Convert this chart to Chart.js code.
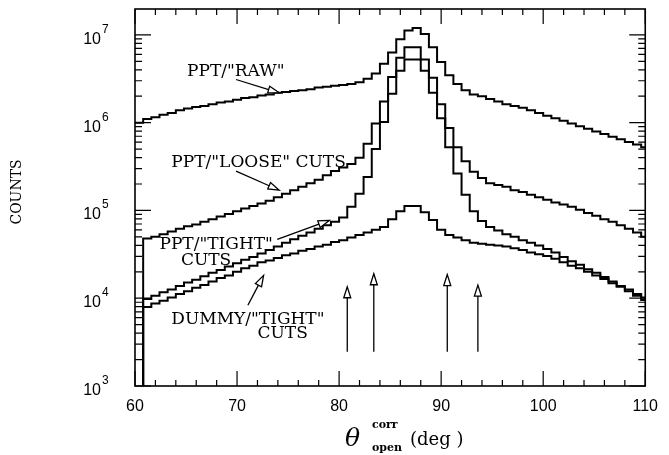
<!DOCTYPE html>
<html>
<head>
<meta charset="utf-8">
<script src="https://cdn.jsdelivr.net/npm/chart.js@4.4.1/dist/chart.umd.min.js"></script>
<style>
  html, body { margin: 0; padding: 0; background: #fff; }
</style>
</head>
<body>
<canvas id="openAngle" width="669" height="455"></canvas>
<script>
// opening-angle histograms, 0.8 deg bins starting at 60 deg
const BIN_START = 60.0;
const BIN_WIDTH = 0.8;

const rawCounts = [
  1.00e6, 1.10e6, 1.15e6, 1.23e6, 1.29e6, 1.38e6, 1.45e6, 1.51e6, 1.55e6, 1.62e6,
  1.70e6, 1.74e6, 1.82e6, 1.91e6, 1.95e6, 2.04e6, 2.09e6, 2.19e6, 2.24e6, 2.29e6,
  2.34e6, 2.40e6, 2.51e6, 2.57e6, 2.63e6, 2.69e6, 2.75e6, 2.88e6, 3.16e6, 3.63e6,
  4.68e6, 6.31e6, 8.91e6, 1.12e7, 1.20e7, 1.02e7, 7.24e6, 4.90e6, 3.47e6, 2.75e6,
  2.34e6, 2.09e6, 2.00e6, 1.86e6, 1.74e6, 1.62e6, 1.55e6, 1.48e6, 1.38e6, 1.29e6,
  1.20e6, 1.12e6, 1.05e6, 9.77e5, 9.12e5, 8.51e5, 7.94e5, 7.41e5, 6.92e5, 6.46e5,
  6.03e5, 5.62e5, 5.25e5
];
const looseCounts = [
  0,      4.79e4, 5.01e4, 5.37e4, 5.75e4, 6.17e4, 6.61e4, 6.92e4, 7.41e4, 7.94e4,
  8.51e4, 9.12e4, 9.77e4, 1.05e5, 1.12e5, 1.20e5, 1.29e5, 1.41e5, 1.55e5, 1.70e5,
  1.86e5, 2.04e5, 2.24e5, 2.51e5, 2.82e5, 3.09e5, 3.39e5, 3.98e5, 5.75e5, 9.77e5,
  1.74e6, 3.31e6, 5.50e6, 7.24e6, 7.24e6, 5.25e6, 3.24e6, 1.62e6, 8.71e5, 5.25e5,
  3.63e5, 2.75e5, 2.34e5, 2.04e5, 1.95e5, 1.86e5, 1.70e5, 1.62e5, 1.51e5, 1.41e5,
  1.32e5, 1.23e5, 1.17e5, 1.10e5, 1.02e5, 9.33e4, 8.71e4, 7.94e4, 7.41e4, 6.76e4,
  6.17e4, 5.62e4, 5.01e4
];
const tightCounts = [
  0,      9.77e3, 1.07e4, 1.17e4, 1.26e4, 1.38e4, 1.51e4, 1.62e4, 1.78e4, 1.95e4,
  2.09e4, 2.29e4, 2.51e4, 2.75e4, 2.95e4, 3.24e4, 3.55e4, 3.89e4, 4.27e4, 4.68e4,
  5.13e4, 5.62e4, 6.17e4, 6.76e4, 7.41e4, 8.32e4, 1.10e5, 1.55e5, 2.40e5, 5.01e5,
  1.02e6, 2.14e6, 3.89e6, 5.25e6, 5.25e6, 3.89e6, 2.19e6, 1.12e6, 5.25e5, 2.63e5,
  1.51e5, 9.77e4, 7.59e4, 6.46e4, 5.89e4, 5.37e4, 5.01e4, 4.57e4, 4.27e4, 3.98e4,
  3.63e4, 3.31e4, 2.95e4, 2.63e4, 2.40e4, 2.14e4, 1.95e4, 1.74e4, 1.55e4, 1.38e4,
  1.26e4, 1.12e4, 1.02e4
];
const dummyCounts = [
  0,      7.94e3, 8.71e3, 9.33e3, 1.02e4, 1.12e4, 1.20e4, 1.32e4, 1.41e4, 1.55e4,
  1.70e4, 1.82e4, 2.00e4, 2.19e4, 2.34e4, 2.57e4, 2.69e4, 2.88e4, 3.09e4, 3.24e4,
  3.47e4, 3.63e4, 3.89e4, 4.07e4, 4.37e4, 4.57e4, 4.90e4, 5.25e4, 5.62e4, 6.03e4,
  6.46e4, 7.94e4, 9.77e4, 1.12e5, 1.12e5, 9.55e4, 7.76e4, 6.03e4, 5.25e4, 4.90e4,
  4.57e4, 4.27e4, 4.17e4, 4.07e4, 3.98e4, 3.89e4, 3.72e4, 3.55e4, 3.31e4, 3.16e4,
  3.02e4, 2.82e4, 2.57e4, 2.34e4, 2.19e4, 2.00e4, 1.82e4, 1.66e4, 1.48e4, 1.35e4,
  1.20e4, 1.07e4, 9.55e3
];

// cut positions marked with vertical arrows (deg)
const cutAngles = [80.8, 83.4, 90.6, 93.6];
const cutArrowTops = [1.35e4, 1.90e4, 1.86e4, 1.41e4];
const cutArrowBottom = 2.45e3;

const xTickLabels = [60, 70, 80, 90, 100, 110];
const yDecades = [3, 4, 5, 6, 7];

// text labels: lines at (deg, counts), arrow from -> to
const curveLabels = [
  { lines: [['PPT/"RAW"', 65.1, 3.8e6]], from: [69.9, 3.1e6], to: [74.13, 2.19e6] },
  { lines: [['PPT/"LOOSE" CUTS', 63.56, 3.5e5]], from: [69.9, 2.8e5], to: [74.13, 1.70e5] },
  { lines: [['PPT/"TIGHT"', 62.4, 4.07e4], ['CUTS', 64.5, 2.7e4]], from: [73.94, 4.68e4], to: [79.04, 7.7e4] },
  { lines: [['DUMMY/"TIGHT"', 63.56, 5.75e3], ['CUTS', 72.0, 3.98e3]], from: [71.06, 8.3e3], to: [72.6, 1.82e4] }
];

// histogram -> step points (left edges plus the closing right edge)
function toSteps(counts) {
  const pts = counts.map((c, i) => ({ x: BIN_START + i * BIN_WIDTH, y: Math.max(c, 1) }));
  pts.push({ x: BIN_START + counts.length * BIN_WIDTH, y: Math.max(counts[counts.length - 1], 1) });
  return pts;
}

function histDataset(label, counts) {
  return {
    label: label,
    data: toSteps(counts),
    stepped: true,
    borderColor: '#000',
    borderWidth: 2,
    pointRadius: 0,
    fill: false,
    clip: 0
  };
}

function arrow(ctx, x0, y0, x1, y1, head, half) {
  const a = Math.atan2(y1 - y0, x1 - x0);
  const bx = x1 - head * Math.cos(a), by = y1 - head * Math.sin(a);
  ctx.beginPath();
  ctx.moveTo(x0, y0);
  ctx.lineTo(bx, by);
  ctx.stroke();
  ctx.beginPath();
  ctx.moveTo(x1, y1);
  ctx.lineTo(bx + half * Math.sin(a), by - half * Math.cos(a));
  ctx.lineTo(bx - half * Math.sin(a), by + half * Math.cos(a));
  ctx.closePath();
  ctx.fillStyle = '#fff';
  ctx.fill();
  ctx.stroke();
}

const framePlugin = {
  id: 'frame',
  afterDraw(chart) {
    const ctx = chart.ctx;
    const area = chart.chartArea;
    const xs = chart.scales.x, ys = chart.scales.y;
    ctx.save();
    ctx.strokeStyle = '#000';
    ctx.lineWidth = 1.6;
    ctx.strokeRect(area.left, area.top, area.right - area.left, area.bottom - area.top);

    // x ticks every 2 deg, long ones at the labelled values
    ctx.lineWidth = 1.2;
    for (let v = xs.min; v <= xs.max + 1e-6; v += 2) {
      const px = xs.getPixelForValue(v);
      const len = xTickLabels.includes(Math.round(v)) ? 15 : 6;
      ctx.beginPath();
      ctx.moveTo(px, area.bottom); ctx.lineTo(px, area.bottom - len);
      ctx.moveTo(px, area.top); ctx.lineTo(px, area.top + len);
      ctx.stroke();
    }
    // y ticks on both sides
    yDecades.forEach(d => {
      for (let m = 1; m <= 9; m++) {
        const v = m * Math.pow(10, d);
        if (v > ys.max) break;
        const py = ys.getPixelForValue(v);
        const len = m === 1 ? 16 : 7;
        ctx.beginPath();
        ctx.moveTo(area.left, py); ctx.lineTo(area.left + len, py);
        ctx.moveTo(area.right, py); ctx.lineTo(area.right - len, py);
        ctx.stroke();
      }
    });

    // y tick labels 10^n
    ctx.fillStyle = '#000';
    ctx.textBaseline = 'alphabetic';
    yDecades.forEach(d => {
      const py = ys.getPixelForValue(Math.pow(10, d));
      ctx.font = '16px "Liberation Sans"';
      ctx.textAlign = 'right';
      ctx.fillText('10', 101, py + 9);
      ctx.font = '12px "Liberation Sans"';
      ctx.textAlign = 'left';
      ctx.fillText(String(d), 102, py - 2);
    });

    // axis titles
    ctx.textAlign = 'left';
    ctx.font = 'italic 25px "DejaVu Serif"';
    ctx.fillText('\u03b8', 345, 446);
    ctx.font = 'bold 11px "DejaVu Serif"';
    ctx.fillText('corr', 372, 428);
    ctx.fillText('open', 372, 451);
    ctx.font = '18px "DejaVu Serif"';
    ctx.fillText('(deg )', 410, 445);

    ctx.save();
    ctx.translate(17, 192);
    ctx.rotate(-Math.PI / 2);
    ctx.textAlign = 'center';
    ctx.textBaseline = 'middle';
    ctx.font = '14px "DejaVu Serif"';
    ctx.fillText('COUNTS', 0, 0);
    ctx.restore();

    // curve labels with arrows
    ctx.font = '17px "DejaVu Serif"';
    ctx.textAlign = 'left';
    ctx.textBaseline = 'middle';
    ctx.lineWidth = 1.3;
    curveLabels.forEach(lab => {
      lab.lines.forEach(([txt, x, y]) => {
        ctx.fillStyle = '#000';
        ctx.fillText(txt, xs.getPixelForValue(x), ys.getPixelForValue(y));
      });
      arrow(ctx,
        xs.getPixelForValue(lab.from[0]), ys.getPixelForValue(lab.from[1]),
        xs.getPixelForValue(lab.to[0]), ys.getPixelForValue(lab.to[1]), 11, 3.5);
    });

    // cut arrows
    cutAngles.forEach((c, i) => {
      const px = xs.getPixelForValue(c);
      arrow(ctx, px, ys.getPixelForValue(cutArrowBottom), px, ys.getPixelForValue(cutArrowTops[i]), 11, 3.5);
    });
    ctx.restore();
  }
};

new Chart(document.getElementById('openAngle'), {
  type: 'line',
  data: {
    datasets: [
      histDataset('PPT/"RAW"', rawCounts),
      histDataset('PPT/"LOOSE" CUTS', looseCounts),
      histDataset('PPT/"TIGHT" CUTS', tightCounts),
      histDataset('DUMMY/"TIGHT" CUTS', dummyCounts)
    ]
  },
  options: {
    responsive: false,
    animation: false,
    devicePixelRatio: 1,
    layout: { padding: { top: 9, right: 14, left: 0, bottom: 0 } },
    plugins: { legend: { display: false }, tooltip: { enabled: false } },
    scales: {
      x: {
        type: 'linear',
        min: 60,
        max: 110,
        grid: { display: false, drawTicks: false },
        border: { display: false },
        ticks: {
          stepSize: 10,
          maxRotation: 0,
          padding: 11,
          color: '#000',
          font: { family: 'Liberation Sans', size: 16 }
        },
        afterFit(scale) { scale.height = 69; }
      },
      y: {
        type: 'logarithmic',
        min: 1000,
        max: 1.97e7,
        grid: { display: false, drawTicks: false },
        border: { display: false },
        ticks: { display: false },
        afterFit(scale) { scale.width = 135; }
      }
    }
  },
  plugins: [framePlugin]
});
</script>
</body>
</html>
